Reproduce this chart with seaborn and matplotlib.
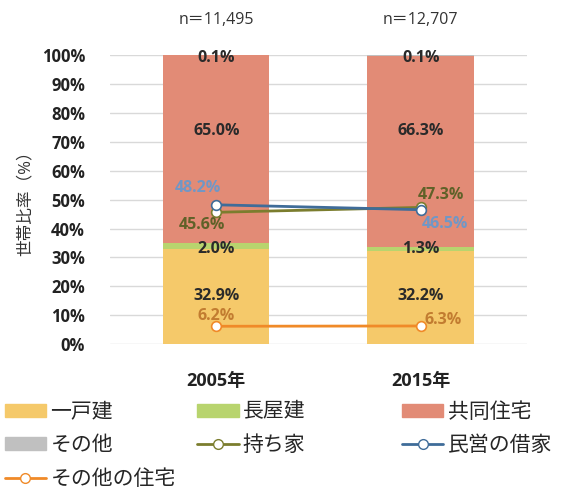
import numpy as np
import pandas as pd
import matplotlib
matplotlib.use('Agg')
import matplotlib.pyplot as plt
import seaborn as sns
from matplotlib.patches import Patch
from matplotlib.lines import Line2D

sns.set_style('white')
plt.rcParams['font.family'] = ['Open Sans', 'Noto Sans CJK JP', 'DejaVu Sans']

# data
years = ['2005年', '2015年']
n_labels = ['n＝11,495', 'n＝12,707']
detached = [32.9, 32.2]      # 一戸建
row_house = [2.0, 1.3]       # 長屋建
apartment = [65.0, 66.3]     # 共同住宅
other = [0.1, 0.1]           # その他
owned = [45.6, 47.3]         # 持ち家
private_rent = [48.2, 46.5]  # 民営の借家
other_house = [6.2, 6.3]     # その他の住宅

c_det, c_row, c_apt, c_oth = '#f5c96a', '#b8d46e', '#e28b76', '#c0c0c0'
c_own, c_rent, c_oh = '#7b7d2e', '#3f6c99', '#f08a28'

df = pd.DataFrame({'year': years, 'det': detached, 'row': row_house,
                   'apt': apartment, 'oth': other})
df['c1'] = df['det']
df['c2'] = df['c1'] + df['row']
df['c3'] = df['c2'] + df['apt']
df['c4'] = df['c3'] + df['oth']

fig = plt.figure(figsize=(5.79, 4.91), dpi=100)
ax = fig.add_axes([0.19, 0.299, 0.72, 0.589])

w = 0.52
for col, c in [('c4', c_oth), ('c3', c_apt), ('c2', c_row), ('c1', c_det)]:
    sns.barplot(data=df, x='year', y=col, color=c, width=w, ax=ax,
                saturation=1, linewidth=0, zorder=2)

xs = np.arange(len(years))
for vals, c in [(owned, c_own), (private_rent, c_rent), (other_house, c_oh)]:
    sns.lineplot(x=xs, y=vals, color=c, lw=2, marker='o', markersize=7,
                 markerfacecolor='white', markeredgecolor=c, markeredgewidth=1.2,
                 ax=ax, zorder=4)

lab = dict(fontsize=11.5, fontweight='bold', zorder=5, va='center')
# bar labels
for i in range(len(years)):
    ax.text(i, 98.8, f'{other[i]:.1f}%', ha='center', color='#2a2a2a', **lab)
    ax.text(i, 73.6, f'{apartment[i]:.1f}%', ha='center', color='#2a2a2a', **lab)
    ax.text(i, 33.0, f'{row_house[i]:.1f}%', ha='center', color='#2a2a2a', **lab)
    ax.text(i, 16.7, f'{detached[i]:.1f}%', ha='center', color='#2a2a2a', **lab)
    ax.text(i, 112, n_labels[i], ha='center', va='center', fontsize=11.5, color='#333333', clip_on=False)

# line labels
ax.text(-0.09, 54.0, f'{private_rent[0]:.1f}%', ha='center', color='#7097c6', **lab)
ax.text(-0.07, 41.2, f'{owned[0]:.1f}%', ha='center', color='#5f6128', **lab)
ax.text(1.1, 51.6, f'{owned[1]:.1f}%', ha='center', color='#5f6128', **lab)
ax.text(1.12, 41.6, f'{private_rent[1]:.1f}%', ha='center', color='#7097c6', **lab)
ax.text(0, 9.8, f'{other_house[0]:.1f}%', ha='center', color='#c27c30', **lab)
ax.text(1.02, 8.3, f'{other_house[1]:.1f}%', ha='left', color='#c27c30', **lab)

ax.set_xlim(-0.52, 1.52)
ax.set_ylim(0, 100)
ax.set_yticks(np.arange(0, 101, 10))
ax.set_yticklabels([f'{v}%' for v in range(0, 101, 10)], fontsize=12, fontweight='bold', color='#222222')
ax.set_xticks(xs)
ax.set_xticklabels(years, fontsize=13, fontweight='bold', color='#222222')
ax.tick_params(axis='y', length=0, pad=18)
ax.tick_params(axis='x', length=0, pad=20)
ax.yaxis.grid(True, color='#d9d9d9', lw=1, zorder=0)
ax.set_axisbelow(True)
for s in ax.spines.values():
    s.set_visible(False)
ax.set_xlabel('')
ax.set_ylabel('世帯比率（%）', fontsize=12, color='#333333', labelpad=6)

def line_handle(c, label):
    return Line2D([], [], color=c, lw=2, marker='o', markerfacecolor='white',
                  markeredgecolor=c, markersize=7, label=label)

columns = [
    ([Patch(color=c_det, label='一戸建'), Patch(color=c_oth, label='その他'),
      line_handle(c_oh, 'その他の住宅')], 0.008),
    ([Patch(color=c_row, label='長屋建'), line_handle(c_own, '持ち家')], 0.340),
    ([Patch(color=c_apt, label='共同住宅'), line_handle(c_rent, '民営の借家')], 0.694),
]
for hs, x0 in columns:
    fig.legend(handles=hs, loc='upper left', bbox_to_anchor=(x0, 0.182),
               frameon=False, fontsize=15, handlelength=2.0, handleheight=0.6,
               handletextpad=0.2, labelspacing=0.6, borderaxespad=0, borderpad=0)

fig.savefig('out.png', dpi=100)
